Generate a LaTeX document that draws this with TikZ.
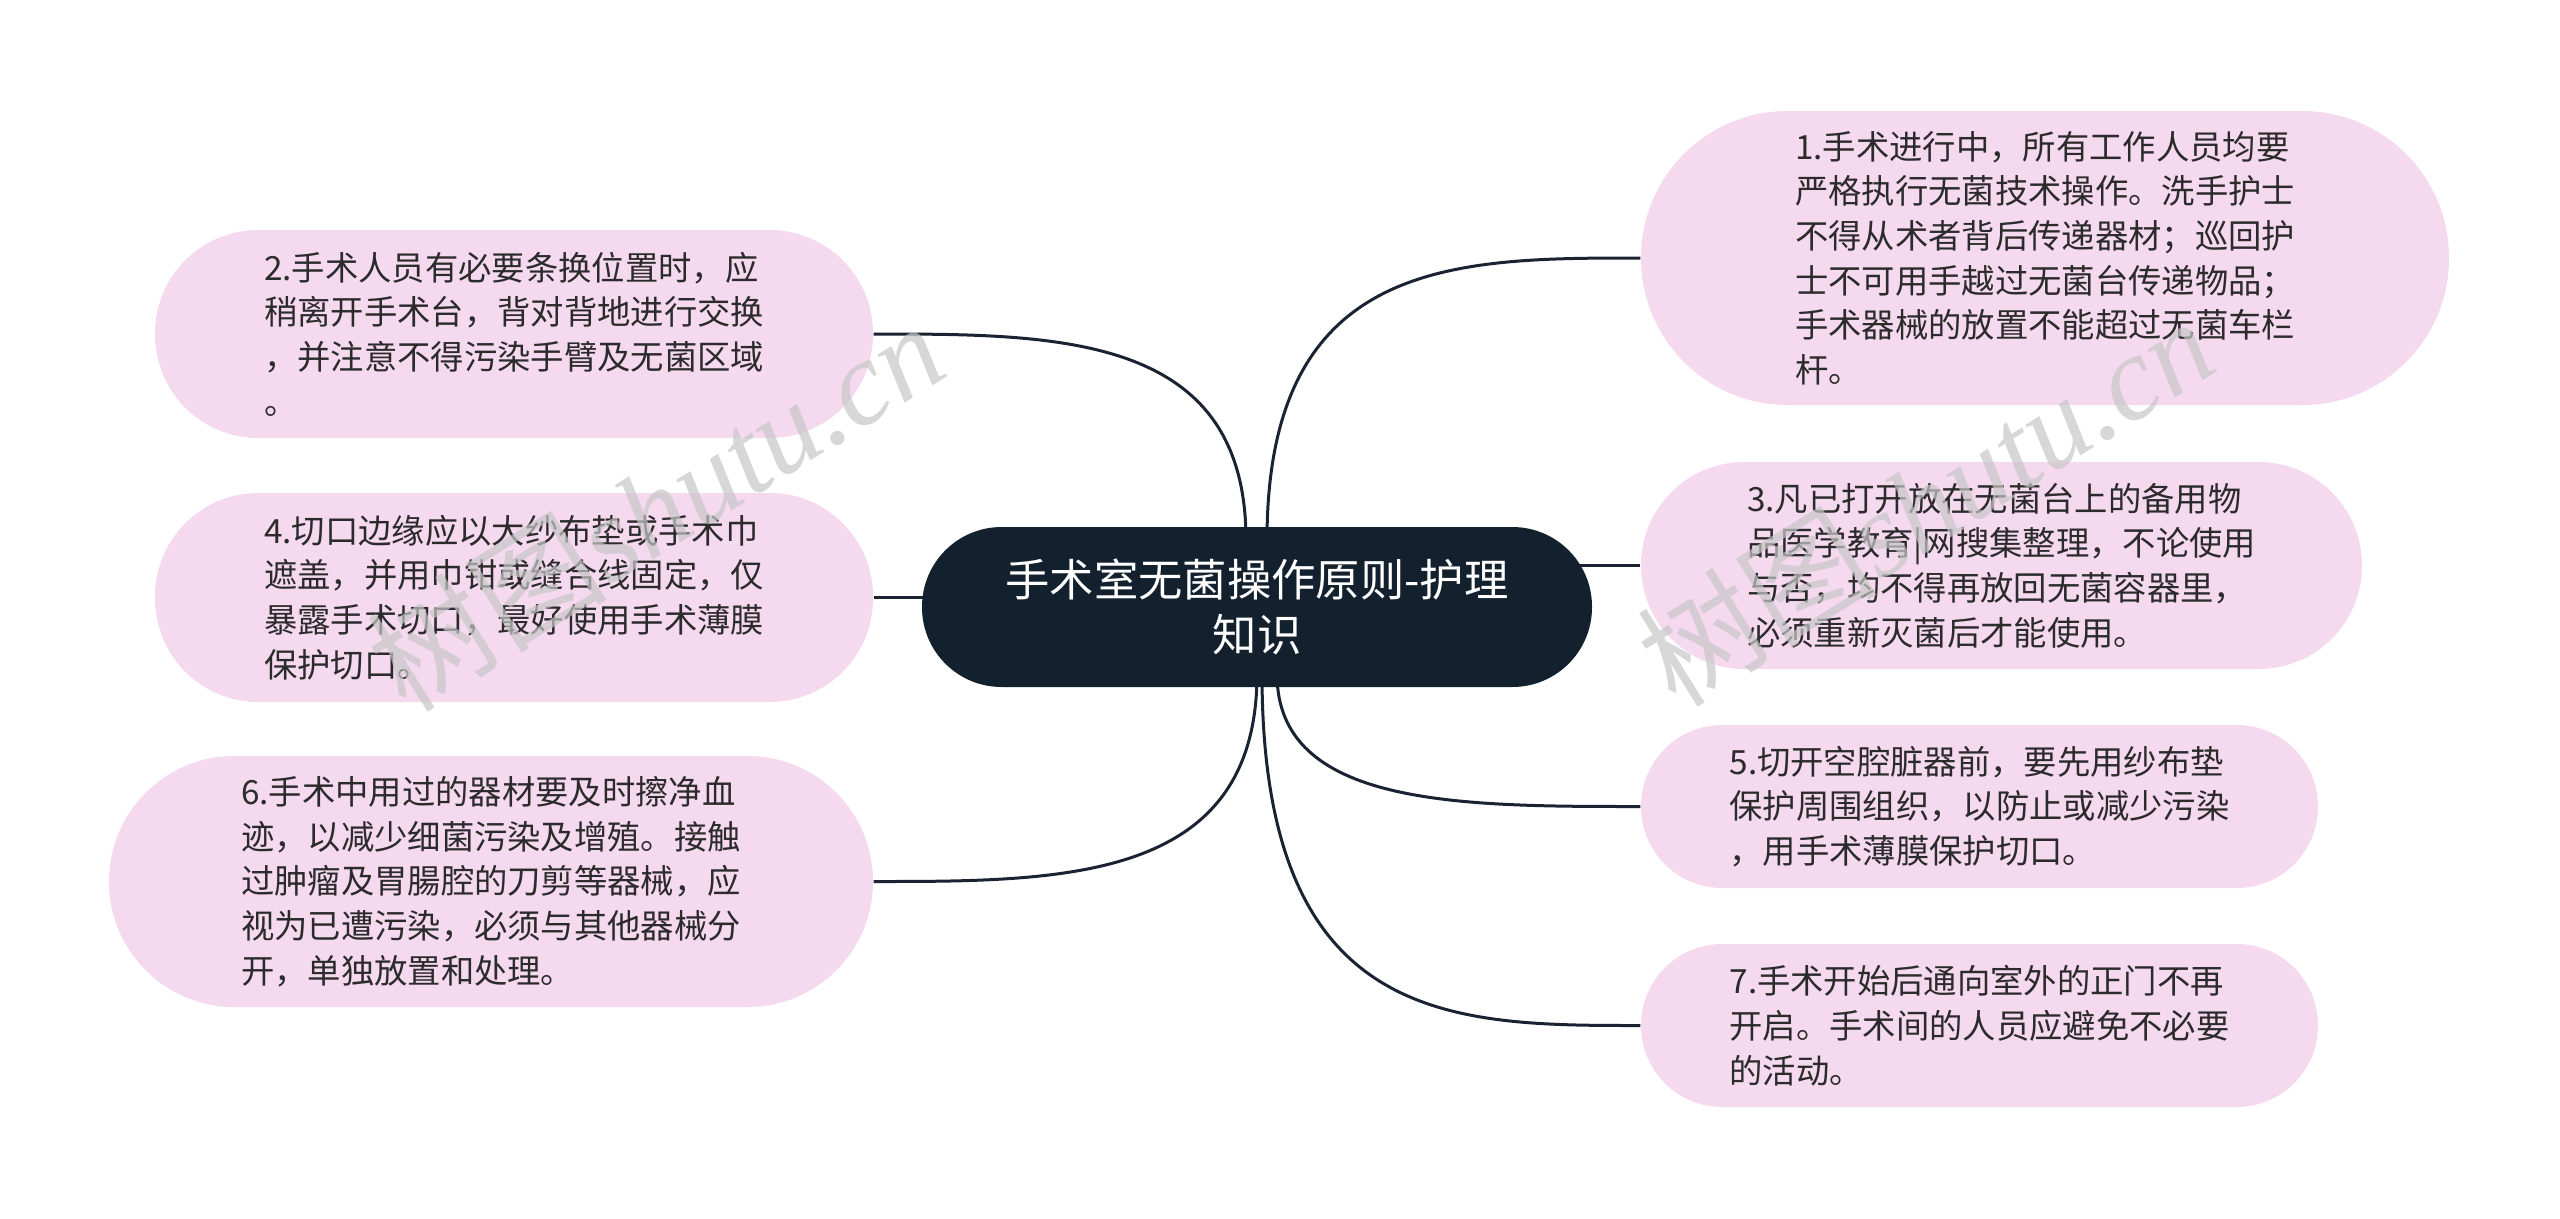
\documentclass[tikz,border=0pt]{standalone}
\usepackage{fontspec}
\newfontfamily\cjk{Noto Sans CJK SC}
\newfontfamily\wmserif{Liberation Serif}
\usetikzlibrary{backgrounds}
\definecolor{pinkc}{HTML}{F5D9EF}
\definecolor{navy}{HTML}{13202E}
\definecolor{linec}{HTML}{1A2332}
\definecolor{txt}{HTML}{2B2B2B}
\begin{document}
\begin{tikzpicture}[x=0.3pt,y=-0.3pt,
 bub/.style={fill=pinkc, inner sep=0pt, align=left, text=txt, font=\cjk\fontsize{10}{13.4}\selectfont},
 conn/.style={draw=linec, line width=0.9pt},
 wm/.style={text=black!22, opacity=0.7, rotate=32, font=\wmserif\fontsize{36}{36}\selectfont}]

\useasboundingbox (0,0) rectangle (2560,1218);

\node[fill=navy, text=white, minimum width=201pt, minimum height=48pt, rounded corners=23.9pt, align=center, inner sep=0pt, font=\cjk\fontsize{13.3}{16.5}\selectfont] (c) at (1257,607) {手术室无菌操作原则-护理\\知识};

\node[bub, minimum width=242.4pt, minimum height=88.2pt, rounded corners=44pt] (n1) at (2045,258)
 {1.手术进行中，所有工作人员均要\\严格执行无菌技术操作。洗手护士\\不得从术者背后传递器材；巡回护\\士不可用手越过无菌台传递物品；\\手术器械的放置不能超过无菌车栏\\杆。};

\node[bub, minimum width=215.4pt, minimum height=62.4pt, rounded corners=31pt] (n2) at (514,334)
 {2.手术人员有必要条换位置时，应\\稍离开手术台，背对背地进行交换\\，并注意不得污染手臂及无菌区域\\。};

\node[bub, minimum width=216.3pt, minimum height=62.1pt, rounded corners=31pt] (n3) at (2001.5,565.5)
 {3.凡已打开放在无菌台上的备用物\\品医学教育|网搜集整理，不论使用\\与否，均不得再放回无菌容器里，\\必须重新灭菌后才能使用。};

\node[bub, minimum width=215.4pt, minimum height=62.7pt, rounded corners=31pt] (n4) at (514,597.5)
 {4.切口边缘应以大纱布垫或手术巾\\遮盖，并用巾钳或缝合线固定，仅\\暴露手术切口，最好使用手术薄膜\\保护切口。};

\node[bub, minimum width=203.1pt, minimum height=48.9pt, rounded corners=24.4pt] (n5) at (1979.5,806.5)
 {5.切开空腔脏器前，要先用纱布垫\\保护周围组织，以防止或减少污染\\，用手术薄膜保护切口。};

\node[bub, minimum width=229.2pt, minimum height=75.3pt, rounded corners=37.6pt] (n6) at (491,881.5)
 {6.手术中用过的器材要及时擦净血\\迹，以减少细菌污染及增殖。接触\\过肿瘤及胃腸腔的刀剪等器械，应\\视为已遭污染，必须与其他器械分\\开，单独放置和处理。};

\node[bub, minimum width=203.1pt, minimum height=48.9pt, rounded corners=24.4pt] (n7) at (1979.5,1025.5)
 {7.手术开始后通向室外的正门不再\\开启。手术间的人员应避免不必要\\的活动。};

\coordinate (s1) at (1267,540);
\coordinate (s2) at (1246,540);
\coordinate (s5) at (1277,674);
\coordinate (s6) at (1257,674);
\coordinate (s7) at (1262,674);

\begin{pgfonlayer}{background}
\fill[white] (0,0) rectangle (2560,1218);
\draw[conn] (s1) .. controls (1267,258) and (1454,258) .. (n1.west);
\draw[conn] (s2) .. controls (1246,334) and (1060,334) .. (n2.east);
\draw[conn] (n3.west) -- (c.center |- n3.west);
\draw[conn] (n4.east) -- (c.center |- n4.east);
\draw[conn] (s5) .. controls (1277,806.5) and (1459,806.5) .. (n5.west);
\draw[conn] (s6) .. controls (1257,881.5) and (1065,881.5) .. (n6.east);
\draw[conn] (s7) .. controls (1262,1025.5) and (1451,1025.5) .. (n7.west);
\end{pgfonlayer}

\node[wm] (wm1) at (655,505) {{\cjk 树图}\textit{shutu.cn}};
\node[wm] (wm2) at (1925,500) {{\cjk 树图}\textit{shutu.cn}};
\end{tikzpicture}
\end{document}
